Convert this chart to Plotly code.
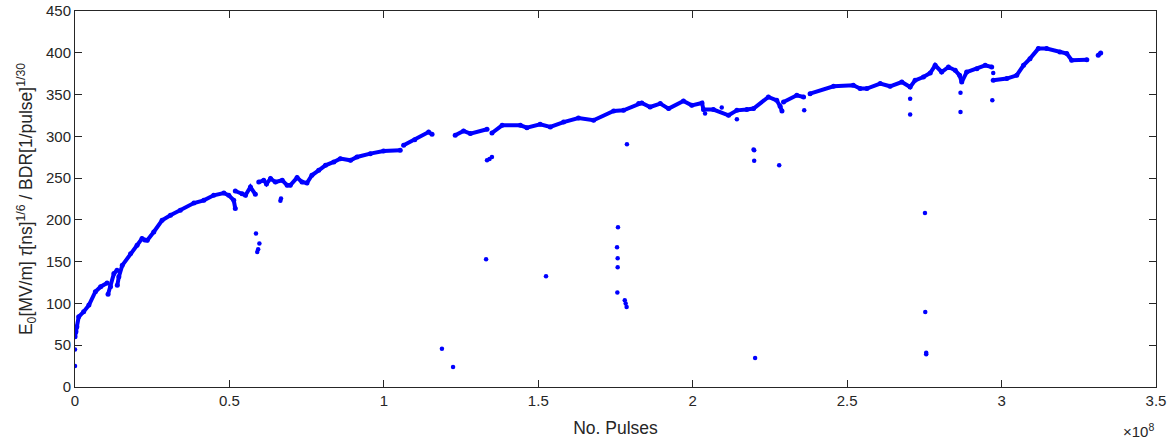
import plotly.graph_objects as go

# Main trend curve, x in units of 1e8 pulses; None separates segments
curve_x = [0.0, 0.003, 0.006, 0.012, 0.028, 0.045, 0.066, 0.083, 0.104, None,
           0.107, 0.115, 0.126, 0.136, None,
           0.137, 0.142, 0.153, 0.18, 0.201, 0.217, 0.226, 0.234, 0.255, 0.282, 0.309, 0.341, 0.385, 0.417, 0.449, 0.482, 0.498, 0.514, 0.519, None,
           0.519, 0.541, 0.552, 0.568, 0.584, None,
           0.595, 0.611, 0.62, 0.633, 0.649, 0.671, 0.687, 0.697, 0.719, 0.735, 0.751, 0.767, 0.789, 0.811, 0.838, 0.859, 0.892, 0.913, 0.956, 0.999, 1.053, None,
           1.064, 1.1, 1.145, 1.156, None,
           1.231, 1.258, 1.28, 1.334, None,
           1.35, 1.383, 1.442, 1.463, 1.506, 1.539, 1.582, 1.63, 1.679, 1.744, 1.776, 1.825, 1.835, 1.862, 1.895, 1.922, 1.97, 1.997, 2.03, 2.035, 2.067, 2.116, 2.143, 2.175, 2.197, 2.245, 2.272, 2.283, 2.289, None,
           2.294, 2.337, 2.359, None,
           2.38, 2.456, 2.52, 2.542, 2.564, 2.607, 2.639, 2.677, 2.704, 2.72, 2.747, 2.769, 2.785, 2.806, 2.828, 2.85, 2.864, 2.871, 2.887, 2.92, 2.947, 2.968, None,
           2.973, 3.017, 3.049, 3.071, 3.092, 3.119, 3.146, 3.189, 3.211, 3.227, 3.276, None,
           3.313, 3.321]
curve_y = [60, 66, 72, 84, 90, 98, 114, 120, 124.5, None,
           111, 120, 135.7, 139.7, None,
           121.7, 132, 145.6, 159.6, 169.6, 177.6, 176, 175.6, 185.5, 199.5, 205.5, 211.5, 220.2, 223.4, 229.4, 232.2, 229.4, 223.4, 213.5, None,
           234.6, 231.4, 229.4, 239.3, 230.6, None,
           245.3, 247.4, 243, 249.4, 245.3, 247.4, 241.4, 241.4, 250.6, 245.3, 244.1, 253.4, 259.3, 265.3, 269.3, 273.3, 271.3, 275.3, 279.3, 282.4, 283.3, None,
           289.3, 296, 305.2, 302.4, None,
           301.2, 306.4, 303.3, 308.4, None,
           304, 313.2, 313.2, 310.4, 314.4, 311.2, 317.1, 321.9, 319.2, 330.3, 331.1, 339.2, 339.9, 335.1, 339.2, 333.2, 342.3, 337.1, 339.9, 332, 332, 325.2, 331.1, 332, 333.2, 347.1, 343.1, 336, 330.3, None,
           341.1, 349.1, 347.1, None,
           351.1, 359.9, 361.1, 357.1, 357.1, 363.1, 359.9, 365, 359, 367, 371, 375.8, 385, 377, 383, 379, 373, 365, 377, 381, 385, 383, None,
           367, 369.1, 373, 385, 393, 405, 405, 400.9, 399, 391, 391.8, None,
           397, 399.7]

# Isolated points away from the main trend
outlier_x = [0.0, 0.0, 0.586, 0.59, 0.593, 0.597, 0.665, 0.667, 1.188, 1.224, 1.331, 1.334, 1.342, 1.35,
             1.525, 1.755, 1.757, 1.757, 1.756, 1.758, 1.78, 1.783, 1.786, 1.787, 2.04, 2.094, 2.143,
             2.197, 2.199, 2.199, 2.202, 2.28, 2.361, 2.704, 2.704, 2.752, 2.753, 2.756, 2.756, 2.867, 2.867, 2.97, 2.973]
outlier_y = [25, 45, 183.6, 161.6, 165, 171.6, 223, 225.5, 45.9, 24, 152.8, 271.3, 273, 275.3,
             132.5, 167.2, 154, 143.2, 113, 191.1, 103.8, 100, 95.7, 290.4, 327.2, 334.4, 320.4,
             284.1, 283.3, 270.9, 34.7, 265.5, 331.1, 345.1, 326, 208.2, 89.8, 39.1, 41, 352.3, 329.1, 343.1, 375.8]

x_ticks = [0, 0.5, 1, 1.5, 2, 2.5, 3, 3.5]
x_labels = ["0", "0.5", "1", "1.5", "2", "2.5", "3", "3.5"]
y_ticks = [0, 50, 100, 150, 200, 250, 300, 350, 400, 450]

BLUE = "#0000FF"
AX = "#262626"
FONT = "Liberation Sans, Arial, Helvetica, sans-serif"

fig = go.Figure()
fig.add_trace(go.Scatter(x=curve_x, y=curve_y, mode="lines+markers",
                         line=dict(color=BLUE, width=4),
                         marker=dict(color=BLUE, size=5),
                         connectgaps=False, showlegend=False))
fig.add_trace(go.Scatter(x=outlier_x, y=outlier_y, mode="markers",
                         marker=dict(color=BLUE, size=4.5), showlegend=False))

fig.update_layout(
    width=1174, height=445,
    margin=dict(l=75, r=18, t=11, b=58),
    paper_bgcolor="white", plot_bgcolor="white",
    font=dict(family=FONT, color=AX, size=15),
    xaxis=dict(range=[0, 3.5], tickvals=x_ticks, ticktext=x_labels, automargin=False,
               showgrid=False, zeroline=False, showline=True, linecolor=AX, linewidth=1,
               mirror="ticks", ticks="inside", ticklen=7, tickcolor=AX,
               tickfont=dict(size=15, color=AX),
               title=dict(text="No. Pulses", font=dict(size=17.5, color=AX), standoff=13)),
    yaxis=dict(range=[0, 450], tickvals=y_ticks, automargin=False,
               showgrid=False, zeroline=False, showline=True, linecolor=AX, linewidth=1,
               mirror="ticks", ticks="inside", ticklen=7, tickcolor=AX,
               tickfont=dict(size=15, color=AX),
               title=dict(text="E<sub>0</sub>[MV/m] <i>τ</i>[ns]<sup>1/6</sup> / BDR[1/pulse]<sup>1/30</sup>",
                          font=dict(size=17.5, color=AX), standoff=8)),
    annotations=[dict(text="×10<sup>8</sup>", xref="paper", yref="paper", x=1.0, y=-0.115,
                      xanchor="right", yanchor="middle", showarrow=False,
                      font=dict(size=15, color=AX))],
)

fig.write_html("out.html", config={"displayModeBar": False},
               post_script="document.body.style.margin='0';")
